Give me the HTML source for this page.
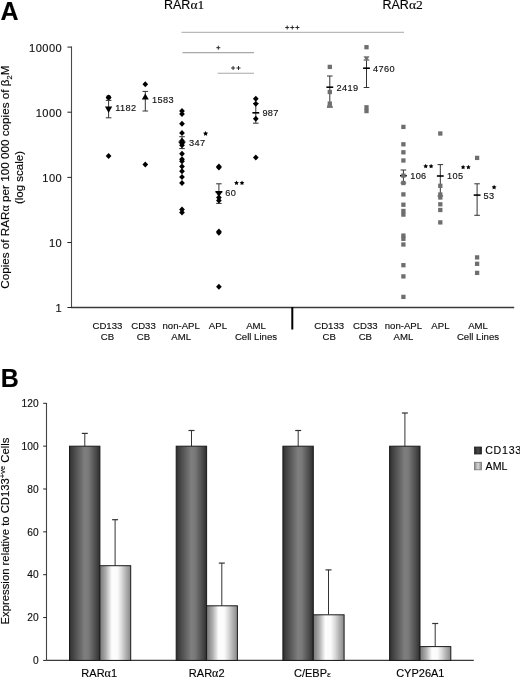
<!DOCTYPE html>
<html><head><meta charset="utf-8"><style>
html,body{margin:0;padding:0;background:#fff;}
body{width:520px;height:678px;overflow:hidden;}
svg{display:block;will-change:transform;}
text{stroke:#000;stroke-width:0.22px;stroke-opacity:0.6;}
</style></head><body>
<svg width="520" height="678" viewBox="0 0 520 678">
<rect width="520" height="678" fill="#fff"/>
<text x="0.50" y="19.60" font-family='"Liberation Sans", sans-serif' font-size="25" font-weight="bold" text-anchor="start" fill="#000" >A</text>
<text x="164" y="8.8" font-family='"Liberation Sans", sans-serif' font-size="12.5" fill="#000">RAR<tspan font-family='"Liberation Serif", serif' font-size="13.5">α1</tspan></text>
<text x="382.5" y="8.6" font-family='"Liberation Sans", sans-serif' font-size="12.5" fill="#000">RAR<tspan font-family='"Liberation Serif", serif' font-size="13.5">α2</tspan></text>
<line x1="71.5" y1="46.5" x2="71.5" y2="308" stroke="#4a4a4a" stroke-width="1.1"/>
<line x1="71.0" y1="307.5" x2="514.2" y2="307.5" stroke="#3a3a3a" stroke-width="1.3"/>
<line x1="292.3" y1="307" x2="292.3" y2="329.5" stroke="#000" stroke-width="2"/>
<line x1="67.4" y1="47.1" x2="71.5" y2="47.1" stroke="#222" stroke-width="1"/>
<text x="62.20" y="51.50" font-family='"Liberation Sans", sans-serif' font-size="11.1" font-weight="normal" text-anchor="end" fill="#111" letter-spacing="0.45">10000</text>
<line x1="67.4" y1="112.2" x2="71.5" y2="112.2" stroke="#222" stroke-width="1"/>
<text x="62.20" y="116.60" font-family='"Liberation Sans", sans-serif' font-size="11.1" font-weight="normal" text-anchor="end" fill="#111" letter-spacing="0.45">1000</text>
<line x1="67.4" y1="177.4" x2="71.5" y2="177.4" stroke="#222" stroke-width="1"/>
<text x="62.20" y="181.80" font-family='"Liberation Sans", sans-serif' font-size="11.1" font-weight="normal" text-anchor="end" fill="#111" letter-spacing="0.45">100</text>
<line x1="67.4" y1="242.5" x2="71.5" y2="242.5" stroke="#222" stroke-width="1"/>
<text x="62.20" y="246.90" font-family='"Liberation Sans", sans-serif' font-size="11.1" font-weight="normal" text-anchor="end" fill="#111" letter-spacing="0.45">10</text>
<line x1="67.4" y1="307.5" x2="71.5" y2="307.5" stroke="#222" stroke-width="1"/>
<text x="62.20" y="311.90" font-family='"Liberation Sans", sans-serif' font-size="11.1" font-weight="normal" text-anchor="end" fill="#111" letter-spacing="0.45">1</text>
<text transform="translate(9.2,177.2) rotate(-90)" font-family='"Liberation Sans", sans-serif' font-size="11.7" text-anchor="middle" fill="#000">Copies of RAR<tspan font-family='"Liberation Serif", serif' font-size="12">α</tspan> per 100 000 copies of β<tspan font-size="7.5" dy="2.5">2</tspan><tspan dy="-2.5">M</tspan></text>
<text transform="translate(22.9,177.5) rotate(-90)" font-family='"Liberation Sans", sans-serif' font-size="11.5" text-anchor="middle" fill="#000">(log scale)</text>
<text x="107.40" y="328.60" font-family='"Liberation Sans", sans-serif' font-size="9.6" font-weight="normal" text-anchor="middle" fill="#111" >CD133</text>
<text x="107.40" y="340.10" font-family='"Liberation Sans", sans-serif' font-size="9.6" font-weight="normal" text-anchor="middle" fill="#111" >CB</text>
<text x="143.50" y="328.60" font-family='"Liberation Sans", sans-serif' font-size="9.6" font-weight="normal" text-anchor="middle" fill="#111" >CD33</text>
<text x="143.50" y="340.10" font-family='"Liberation Sans", sans-serif' font-size="9.6" font-weight="normal" text-anchor="middle" fill="#111" >CB</text>
<text x="181.20" y="328.60" font-family='"Liberation Sans", sans-serif' font-size="9.6" font-weight="normal" text-anchor="middle" fill="#111" >non-APL</text>
<text x="181.20" y="340.10" font-family='"Liberation Sans", sans-serif' font-size="9.6" font-weight="normal" text-anchor="middle" fill="#111" >AML</text>
<text x="217.90" y="328.60" font-family='"Liberation Sans", sans-serif' font-size="9.6" font-weight="normal" text-anchor="middle" fill="#111" >APL</text>
<text x="256.00" y="328.60" font-family='"Liberation Sans", sans-serif' font-size="9.6" font-weight="normal" text-anchor="middle" fill="#111" >AML</text>
<text x="256.00" y="340.10" font-family='"Liberation Sans", sans-serif' font-size="9.6" font-weight="normal" text-anchor="middle" fill="#111" >Cell Lines</text>
<text x="329.20" y="328.60" font-family='"Liberation Sans", sans-serif' font-size="9.6" font-weight="normal" text-anchor="middle" fill="#111" >CD133</text>
<text x="329.20" y="340.10" font-family='"Liberation Sans", sans-serif' font-size="9.6" font-weight="normal" text-anchor="middle" fill="#111" >CB</text>
<text x="365.30" y="328.60" font-family='"Liberation Sans", sans-serif' font-size="9.6" font-weight="normal" text-anchor="middle" fill="#111" >CD33</text>
<text x="365.30" y="340.10" font-family='"Liberation Sans", sans-serif' font-size="9.6" font-weight="normal" text-anchor="middle" fill="#111" >CB</text>
<text x="403.40" y="328.60" font-family='"Liberation Sans", sans-serif' font-size="9.6" font-weight="normal" text-anchor="middle" fill="#111" >non-APL</text>
<text x="403.40" y="340.10" font-family='"Liberation Sans", sans-serif' font-size="9.6" font-weight="normal" text-anchor="middle" fill="#111" >AML</text>
<text x="440.40" y="328.60" font-family='"Liberation Sans", sans-serif' font-size="9.6" font-weight="normal" text-anchor="middle" fill="#111" >APL</text>
<text x="478.00" y="328.60" font-family='"Liberation Sans", sans-serif' font-size="9.6" font-weight="normal" text-anchor="middle" fill="#111" >AML</text>
<text x="478.00" y="340.10" font-family='"Liberation Sans", sans-serif' font-size="9.6" font-weight="normal" text-anchor="middle" fill="#111" >Cell Lines</text>
<line x1="181.5" y1="32.3" x2="404" y2="32.3" stroke="#a8a8a8" stroke-width="1"/>
<line x1="182.5" y1="52.6" x2="254" y2="52.6" stroke="#a8a8a8" stroke-width="1.1"/>
<line x1="217.7" y1="73.2" x2="254" y2="73.2" stroke="#a8a8a8" stroke-width="1.1"/>
<line x1="285.2" y1="27.5" x2="289.2" y2="27.5" stroke="#222" stroke-width="0.95"/>
<line x1="287.2" y1="25.5" x2="287.2" y2="29.5" stroke="#222" stroke-width="0.95"/>
<line x1="290.3" y1="27.5" x2="294.3" y2="27.5" stroke="#222" stroke-width="0.95"/>
<line x1="292.3" y1="25.5" x2="292.3" y2="29.5" stroke="#222" stroke-width="0.95"/>
<line x1="295.4" y1="27.5" x2="299.4" y2="27.5" stroke="#222" stroke-width="0.95"/>
<line x1="297.4" y1="25.5" x2="297.4" y2="29.5" stroke="#222" stroke-width="0.95"/>
<line x1="216.3" y1="47.7" x2="220.3" y2="47.7" stroke="#222" stroke-width="0.95"/>
<line x1="218.3" y1="45.7" x2="218.3" y2="49.7" stroke="#222" stroke-width="0.95"/>
<line x1="231.1" y1="68.0" x2="235.1" y2="68.0" stroke="#222" stroke-width="0.95"/>
<line x1="233.1" y1="66.0" x2="233.1" y2="70.0" stroke="#222" stroke-width="0.95"/>
<line x1="236.5" y1="68.0" x2="240.5" y2="68.0" stroke="#222" stroke-width="0.95"/>
<line x1="238.5" y1="66.0" x2="238.5" y2="70.0" stroke="#222" stroke-width="0.95"/>
<line x1="108.6" y1="100.4" x2="108.6" y2="117.8" stroke="#333" stroke-width="1"/>
<line x1="105.8" y1="100.4" x2="111.39999999999999" y2="100.4" stroke="#333" stroke-width="1"/>
<line x1="105.8" y1="117.8" x2="111.39999999999999" y2="117.8" stroke="#333" stroke-width="1"/>
<polygon points="105.60,97.40 108.60,94.50 111.60,97.40 108.60,100.30" fill="#000"/>
<circle cx="108.6" cy="97.5" r="2.4" fill="#000"/>
<polygon points="105.00,106.60 112.20,106.60 108.60,112.90" fill="#000"/>
<polygon points="105.75,155.90 108.60,152.90 111.45,155.90 108.60,158.90" fill="#000"/>
<text x="115.30" y="111.40" font-family='"Liberation Sans", sans-serif' font-size="9.2" font-weight="normal" text-anchor="start" fill="#111" letter-spacing="0.35">1182</text>
<line x1="145.3" y1="91.4" x2="145.3" y2="111" stroke="#333" stroke-width="1"/>
<line x1="142.5" y1="91.4" x2="148.10000000000002" y2="91.4" stroke="#333" stroke-width="1"/>
<line x1="142.5" y1="111" x2="148.10000000000002" y2="111" stroke="#333" stroke-width="1"/>
<polygon points="142.45,84.30 145.30,81.30 148.15,84.30 145.30,87.30" fill="#000"/>
<polygon points="141.80,99.50 148.80,99.50 145.30,93.60" fill="#000"/>
<polygon points="142.45,164.40 145.30,161.40 148.15,164.40 145.30,167.40" fill="#000"/>
<text x="152.00" y="102.80" font-family='"Liberation Sans", sans-serif' font-size="9.2" font-weight="normal" text-anchor="start" fill="#111" letter-spacing="0.35">1583</text>
<line x1="182" y1="136.7" x2="182" y2="148.6" stroke="#333" stroke-width="1"/>
<line x1="179.2" y1="136.7" x2="184.8" y2="136.7" stroke="#333" stroke-width="1"/>
<line x1="179.2" y1="148.6" x2="184.8" y2="148.6" stroke="#333" stroke-width="1"/>
<line x1="178.6" y1="142.1" x2="185.4" y2="142.1" stroke="#000" stroke-width="1.6"/>
<polygon points="179.15,111.00 182.00,108.00 184.85,111.00 182.00,114.00" fill="#000"/>
<polygon points="179.15,114.00 182.00,111.00 184.85,114.00 182.00,117.00" fill="#000"/>
<polygon points="179.15,123.80 182.00,120.80 184.85,123.80 182.00,126.80" fill="#000"/>
<polygon points="179.15,132.90 182.00,129.90 184.85,132.90 182.00,135.90" fill="#000"/>
<polygon points="179.15,140.80 182.00,137.80 184.85,140.80 182.00,143.80" fill="#000"/>
<polygon points="179.15,143.20 182.00,140.20 184.85,143.20 182.00,146.20" fill="#000"/>
<polygon points="179.15,145.20 182.00,142.20 184.85,145.20 182.00,148.20" fill="#000"/>
<polygon points="179.15,153.70 182.00,150.70 184.85,153.70 182.00,156.70" fill="#000"/>
<polygon points="179.15,159.30 182.00,156.30 184.85,159.30 182.00,162.30" fill="#000"/>
<polygon points="179.15,161.30 182.00,158.30 184.85,161.30 182.00,164.30" fill="#000"/>
<polygon points="179.15,166.50 182.00,163.50 184.85,166.50 182.00,169.50" fill="#000"/>
<polygon points="179.15,171.20 182.00,168.20 184.85,171.20 182.00,174.20" fill="#000"/>
<polygon points="179.15,177.10 182.00,174.10 184.85,177.10 182.00,180.10" fill="#000"/>
<polygon points="179.15,182.90 182.00,179.90 184.85,182.90 182.00,185.90" fill="#000"/>
<polygon points="179.15,209.60 182.00,206.60 184.85,209.60 182.00,212.60" fill="#000"/>
<polygon points="179.15,212.60 182.00,209.60 184.85,212.60 182.00,215.60" fill="#000"/>
<text x="189.00" y="145.80" font-family='"Liberation Sans", sans-serif' font-size="9.2" font-weight="normal" text-anchor="start" fill="#111" letter-spacing="0.35">347</text>
<polygon points="205.60,130.90 206.39,132.51 208.17,132.77 206.88,134.02 207.19,135.78 205.60,134.95 204.01,135.78 204.32,134.02 203.03,132.77 204.81,132.51" fill="#000"/>
<line x1="218.9" y1="183.8" x2="218.9" y2="203.4" stroke="#333" stroke-width="1"/>
<line x1="216.1" y1="183.8" x2="221.70000000000002" y2="183.8" stroke="#333" stroke-width="1"/>
<line x1="216.1" y1="203.4" x2="221.70000000000002" y2="203.4" stroke="#333" stroke-width="1"/>
<line x1="215.5" y1="191.8" x2="222.3" y2="191.8" stroke="#000" stroke-width="1.6"/>
<polygon points="216.05,166.50 218.90,163.50 221.75,166.50 218.90,169.50" fill="#000"/>
<polygon points="216.05,167.40 218.90,164.40 221.75,167.40 218.90,170.40" fill="#000"/>
<polygon points="215.30,191.40 222.50,191.40 218.90,197.00" fill="#000"/>
<polygon points="216.05,197.40 218.90,194.40 221.75,197.40 218.90,200.40" fill="#000"/>
<polygon points="216.05,200.40 218.90,197.40 221.75,200.40 218.90,203.40" fill="#000"/>
<polygon points="216.05,231.60 218.90,228.60 221.75,231.60 218.90,234.60" fill="#000"/>
<polygon points="216.05,232.80 218.90,229.80 221.75,232.80 218.90,235.80" fill="#000"/>
<polygon points="216.05,286.70 218.90,283.70 221.75,286.70 218.90,289.70" fill="#000"/>
<text x="225.30" y="195.60" font-family='"Liberation Sans", sans-serif' font-size="9.2" font-weight="normal" text-anchor="start" fill="#111" letter-spacing="0.35">60</text>
<polygon points="236.50,180.50 237.23,181.99 238.88,182.23 237.69,183.39 237.97,185.02 236.50,184.25 235.03,185.02 235.31,183.39 234.12,182.23 235.77,181.99" fill="#000"/>
<polygon points="242.00,180.50 242.73,181.99 244.38,182.23 243.19,183.39 243.47,185.02 242.00,184.25 240.53,185.02 240.81,183.39 239.62,182.23 241.27,181.99" fill="#000"/>
<line x1="255.8" y1="103.5" x2="255.8" y2="123.2" stroke="#333" stroke-width="1"/>
<line x1="253.0" y1="103.5" x2="258.6" y2="103.5" stroke="#333" stroke-width="1"/>
<line x1="253.0" y1="123.2" x2="258.6" y2="123.2" stroke="#333" stroke-width="1"/>
<line x1="252.4" y1="112.8" x2="259.2" y2="112.8" stroke="#000" stroke-width="1.6"/>
<polygon points="252.95,98.80 255.80,95.80 258.65,98.80 255.80,101.80" fill="#000"/>
<polygon points="252.95,103.80 255.80,100.80 258.65,103.80 255.80,106.80" fill="#000"/>
<polygon points="252.95,118.80 255.80,115.80 258.65,118.80 255.80,121.80" fill="#000"/>
<polygon points="252.95,157.50 255.80,154.50 258.65,157.50 255.80,160.50" fill="#000"/>
<text x="262.40" y="116.30" font-family='"Liberation Sans", sans-serif' font-size="9.2" font-weight="normal" text-anchor="start" fill="#111" letter-spacing="0.35">987</text>
<line x1="329.8" y1="76" x2="329.8" y2="107" stroke="#333" stroke-width="1"/>
<line x1="327.0" y1="76" x2="332.6" y2="76" stroke="#333" stroke-width="1"/>
<line x1="327.0" y1="107" x2="332.6" y2="107" stroke="#333" stroke-width="1"/>
<line x1="326.40000000000003" y1="87.2" x2="333.2" y2="87.2" stroke="#000" stroke-width="1.6"/>
<rect x="327.65" y="64.75" width="4.3" height="4.3" fill="#6e6e6e"/>
<rect x="327.65" y="89.85" width="4.3" height="4.3" fill="#6e6e6e"/>
<rect x="327.65" y="101.45" width="4.3" height="4.3" fill="#6e6e6e"/>
<polygon points="326.8,107.7 332.8,107.7 332.0,104.8 327.6,104.8" fill="#727272"/>
<text x="336.50" y="90.70" font-family='"Liberation Sans", sans-serif' font-size="9.2" font-weight="normal" text-anchor="start" fill="#111" letter-spacing="0.35">2419</text>
<line x1="366.5" y1="60" x2="366.5" y2="87.5" stroke="#333" stroke-width="1"/>
<line x1="363.7" y1="60" x2="369.3" y2="60" stroke="#333" stroke-width="1"/>
<line x1="363.7" y1="87.5" x2="369.3" y2="87.5" stroke="#333" stroke-width="1"/>
<line x1="363.1" y1="68.2" x2="369.9" y2="68.2" stroke="#000" stroke-width="1.6"/>
<rect x="364.35" y="45.05" width="4.3" height="4.3" fill="#6e6e6e"/>
<polygon points="363.50,56.30 369.50,56.30 366.50,61.20" fill="#727272"/>
<rect x="364.35" y="105.15" width="4.3" height="4.3" fill="#6e6e6e"/>
<rect x="364.35" y="108.95" width="4.3" height="4.3" fill="#6e6e6e"/>
<text x="373.00" y="71.50" font-family='"Liberation Sans", sans-serif' font-size="9.2" font-weight="normal" text-anchor="start" fill="#111" letter-spacing="0.35">4760</text>
<line x1="403.4" y1="170" x2="403.4" y2="183" stroke="#333" stroke-width="1"/>
<line x1="400.59999999999997" y1="170" x2="406.2" y2="170" stroke="#333" stroke-width="1"/>
<line x1="400.59999999999997" y1="183" x2="406.2" y2="183" stroke="#333" stroke-width="1"/>
<line x1="400.0" y1="175.7" x2="406.79999999999995" y2="175.7" stroke="#000" stroke-width="1.6"/>
<rect x="401.25" y="124.75" width="4.3" height="4.3" fill="#6e6e6e"/>
<rect x="401.25" y="142.15" width="4.3" height="4.3" fill="#6e6e6e"/>
<rect x="401.25" y="150.15" width="4.3" height="4.3" fill="#6e6e6e"/>
<rect x="401.25" y="158.35" width="4.3" height="4.3" fill="#6e6e6e"/>
<rect x="401.25" y="173.45" width="4.3" height="4.3" fill="#6e6e6e"/>
<rect x="401.25" y="180.85" width="4.3" height="4.3" fill="#6e6e6e"/>
<rect x="401.25" y="192.25" width="4.3" height="4.3" fill="#6e6e6e"/>
<rect x="401.25" y="202.55" width="4.3" height="4.3" fill="#6e6e6e"/>
<rect x="401.25" y="208.85" width="4.3" height="4.3" fill="#6e6e6e"/>
<rect x="401.25" y="212.45" width="4.3" height="4.3" fill="#6e6e6e"/>
<rect x="401.25" y="233.45" width="4.3" height="4.3" fill="#6e6e6e"/>
<rect x="401.25" y="236.65" width="4.3" height="4.3" fill="#6e6e6e"/>
<rect x="401.25" y="242.35" width="4.3" height="4.3" fill="#6e6e6e"/>
<rect x="401.25" y="263.05" width="4.3" height="4.3" fill="#6e6e6e"/>
<rect x="401.25" y="274.25" width="4.3" height="4.3" fill="#6e6e6e"/>
<rect x="401.25" y="294.75" width="4.3" height="4.3" fill="#6e6e6e"/>
<text x="410.20" y="179.30" font-family='"Liberation Sans", sans-serif' font-size="9.2" font-weight="normal" text-anchor="start" fill="#111" letter-spacing="0.35">106</text>
<polygon points="425.70,163.80 426.43,165.29 428.08,165.53 426.89,166.69 427.17,168.32 425.70,167.55 424.23,168.32 424.51,166.69 423.32,165.53 424.97,165.29" fill="#000"/>
<polygon points="431.10,163.80 431.83,165.29 433.48,165.53 432.29,166.69 432.57,168.32 431.10,167.55 429.63,168.32 429.91,166.69 428.72,165.53 430.37,165.29" fill="#000"/>
<line x1="440.3" y1="164.6" x2="440.3" y2="196" stroke="#333" stroke-width="1"/>
<line x1="437.5" y1="164.6" x2="443.1" y2="164.6" stroke="#333" stroke-width="1"/>
<line x1="437.5" y1="196" x2="443.1" y2="196" stroke="#333" stroke-width="1"/>
<line x1="436.90000000000003" y1="176" x2="443.7" y2="176" stroke="#000" stroke-width="1.6"/>
<rect x="438.15" y="131.35" width="4.3" height="4.3" fill="#6e6e6e"/>
<rect x="438.15" y="183.65" width="4.3" height="4.3" fill="#6e6e6e"/>
<rect x="438.15" y="192.35" width="4.3" height="4.3" fill="#6e6e6e"/>
<rect x="438.15" y="195.35" width="4.3" height="4.3" fill="#6e6e6e"/>
<rect x="438.15" y="202.15" width="4.3" height="4.3" fill="#6e6e6e"/>
<rect x="438.15" y="207.85" width="4.3" height="4.3" fill="#6e6e6e"/>
<rect x="438.15" y="220.25" width="4.3" height="4.3" fill="#6e6e6e"/>
<text x="447.00" y="179.30" font-family='"Liberation Sans", sans-serif' font-size="9.2" font-weight="normal" text-anchor="start" fill="#111" letter-spacing="0.35">105</text>
<polygon points="463.10,164.70 463.83,166.19 465.48,166.43 464.29,167.59 464.57,169.22 463.10,168.45 461.63,169.22 461.91,167.59 460.72,166.43 462.37,166.19" fill="#000"/>
<polygon points="468.40,164.70 469.13,166.19 470.78,166.43 469.59,167.59 469.87,169.22 468.40,168.45 466.93,169.22 467.21,167.59 466.02,166.43 467.67,166.19" fill="#000"/>
<rect x="474.95" y="155.75" width="4.3" height="4.3" fill="#6e6e6e"/>
<line x1="477.1" y1="183.8" x2="477.1" y2="215.3" stroke="#333" stroke-width="1"/>
<line x1="474.3" y1="183.8" x2="479.90000000000003" y2="183.8" stroke="#333" stroke-width="1"/>
<line x1="474.3" y1="215.3" x2="479.90000000000003" y2="215.3" stroke="#333" stroke-width="1"/>
<line x1="473.70000000000005" y1="195.1" x2="480.5" y2="195.1" stroke="#000" stroke-width="1.6"/>
<rect x="474.95" y="255.25" width="4.3" height="4.3" fill="#6e6e6e"/>
<rect x="474.95" y="261.65" width="4.3" height="4.3" fill="#6e6e6e"/>
<rect x="474.95" y="270.75" width="4.3" height="4.3" fill="#6e6e6e"/>
<text x="483.50" y="198.50" font-family='"Liberation Sans", sans-serif' font-size="9.2" font-weight="normal" text-anchor="start" fill="#111" letter-spacing="0.35">53</text>
<polygon points="494.10,184.70 494.86,186.25 496.57,186.50 495.34,187.70 495.63,189.40 494.10,188.60 492.57,189.40 492.86,187.70 491.63,186.50 493.34,186.25" fill="#000"/>
<text x="0.80" y="386.90" font-family='"Liberation Sans", sans-serif' font-size="25" font-weight="bold" text-anchor="start" fill="#000" >B</text>
<line x1="46.5" y1="403" x2="46.5" y2="660.4" stroke="#444" stroke-width="1.1"/>
<line x1="46.5" y1="660.4" x2="473.8" y2="660.4" stroke="#3a3a3a" stroke-width="1.2"/>
<line x1="43.2" y1="660.40" x2="46.5" y2="660.40" stroke="#222" stroke-width="1"/>
<text x="38.60" y="664.10" font-family='"Liberation Sans", sans-serif' font-size="10.2" font-weight="normal" text-anchor="end" fill="#111" >0</text>
<line x1="43.2" y1="617.55" x2="46.5" y2="617.55" stroke="#222" stroke-width="1"/>
<text x="38.60" y="621.25" font-family='"Liberation Sans", sans-serif' font-size="10.2" font-weight="normal" text-anchor="end" fill="#111" >20</text>
<line x1="43.2" y1="574.70" x2="46.5" y2="574.70" stroke="#222" stroke-width="1"/>
<text x="38.60" y="578.40" font-family='"Liberation Sans", sans-serif' font-size="10.2" font-weight="normal" text-anchor="end" fill="#111" >40</text>
<line x1="43.2" y1="531.85" x2="46.5" y2="531.85" stroke="#222" stroke-width="1"/>
<text x="38.60" y="535.55" font-family='"Liberation Sans", sans-serif' font-size="10.2" font-weight="normal" text-anchor="end" fill="#111" >60</text>
<line x1="43.2" y1="489.00" x2="46.5" y2="489.00" stroke="#222" stroke-width="1"/>
<text x="38.60" y="492.70" font-family='"Liberation Sans", sans-serif' font-size="10.2" font-weight="normal" text-anchor="end" fill="#111" >80</text>
<line x1="43.2" y1="446.15" x2="46.5" y2="446.15" stroke="#222" stroke-width="1"/>
<text x="38.60" y="449.85" font-family='"Liberation Sans", sans-serif' font-size="10.2" font-weight="normal" text-anchor="end" fill="#111" >100</text>
<line x1="43.2" y1="403.30" x2="46.5" y2="403.30" stroke="#222" stroke-width="1"/>
<text x="38.60" y="407.00" font-family='"Liberation Sans", sans-serif' font-size="10.2" font-weight="normal" text-anchor="end" fill="#111" >120</text>
<defs>
<linearGradient id="gd" x1="0" x2="1" y1="0" y2="0">
<stop offset="0" stop-color="#2c2c2c"/><stop offset="0.06" stop-color="#3a3a3a"/><stop offset="0.5" stop-color="#7f7f7f"/><stop offset="0.62" stop-color="#797979"/><stop offset="0.88" stop-color="#484848"/><stop offset="1" stop-color="#2e2e2e"/>
</linearGradient>
<linearGradient id="gl" x1="0" x2="1" y1="0" y2="0">
<stop offset="0" stop-color="#7c7c7c"/><stop offset="0.08" stop-color="#8c8c8c"/><stop offset="0.2" stop-color="#b0b0b0"/><stop offset="0.3" stop-color="#d8d8d8"/><stop offset="0.39" stop-color="#fdfdfd"/><stop offset="0.57" stop-color="#fbfbfb"/><stop offset="0.7" stop-color="#dcdcdc"/><stop offset="0.85" stop-color="#b0b0b0"/><stop offset="1" stop-color="#888888"/>
</linearGradient>
<linearGradient id="gld" x1="0" x2="1" y1="0" y2="0">
<stop offset="0" stop-color="#222"/><stop offset="0.5" stop-color="#4a4a4a"/><stop offset="1" stop-color="#222"/>
</linearGradient>
<linearGradient id="gll" x1="0" x2="1" y1="0" y2="0">
<stop offset="0" stop-color="#888"/><stop offset="0.5" stop-color="#d8d8d8"/><stop offset="1" stop-color="#888"/>
</linearGradient>
</defs>
<line x1="84.80" y1="433.4" x2="84.80" y2="446.2" stroke="#333" stroke-width="1"/>
<line x1="81.80" y1="433.4" x2="87.80" y2="433.4" stroke="#333" stroke-width="1.2"/>
<rect x="69.50" y="446.2" width="30.4" height="214.20" fill="url(#gd)" stroke="#1a1a1a" stroke-width="1"/>
<line x1="115.10" y1="519.7" x2="115.10" y2="565.7" stroke="#333" stroke-width="1"/>
<line x1="112.10" y1="519.7" x2="118.10" y2="519.7" stroke="#333" stroke-width="1.2"/>
<rect x="99.90" y="565.7" width="30.8" height="94.70" fill="url(#gl)" stroke="#1a1a1a" stroke-width="1"/>
<line x1="191.50" y1="430.5" x2="191.50" y2="446.2" stroke="#333" stroke-width="1"/>
<line x1="188.50" y1="430.5" x2="194.50" y2="430.5" stroke="#333" stroke-width="1.2"/>
<rect x="176.20" y="446.2" width="30.4" height="214.20" fill="url(#gd)" stroke="#1a1a1a" stroke-width="1"/>
<line x1="221.80" y1="563.1" x2="221.80" y2="605.8" stroke="#333" stroke-width="1"/>
<line x1="218.80" y1="563.1" x2="224.80" y2="563.1" stroke="#333" stroke-width="1.2"/>
<rect x="206.60" y="605.8" width="30.8" height="54.60" fill="url(#gl)" stroke="#1a1a1a" stroke-width="1"/>
<line x1="298.20" y1="430.5" x2="298.20" y2="446.2" stroke="#333" stroke-width="1"/>
<line x1="295.20" y1="430.5" x2="301.20" y2="430.5" stroke="#333" stroke-width="1.2"/>
<rect x="282.90" y="446.2" width="30.4" height="214.20" fill="url(#gd)" stroke="#1a1a1a" stroke-width="1"/>
<line x1="328.50" y1="569.9" x2="328.50" y2="614.8" stroke="#333" stroke-width="1"/>
<line x1="325.50" y1="569.9" x2="331.50" y2="569.9" stroke="#333" stroke-width="1.2"/>
<rect x="313.30" y="614.8" width="30.8" height="45.60" fill="url(#gl)" stroke="#1a1a1a" stroke-width="1"/>
<line x1="404.90" y1="413.0" x2="404.90" y2="446.2" stroke="#333" stroke-width="1"/>
<line x1="401.90" y1="413.0" x2="407.90" y2="413.0" stroke="#333" stroke-width="1.2"/>
<rect x="389.60" y="446.2" width="30.4" height="214.20" fill="url(#gd)" stroke="#1a1a1a" stroke-width="1"/>
<line x1="435.20" y1="623.5" x2="435.20" y2="646.6" stroke="#333" stroke-width="1"/>
<line x1="432.20" y1="623.5" x2="438.20" y2="623.5" stroke="#333" stroke-width="1.2"/>
<rect x="420.00" y="646.6" width="30.8" height="13.80" fill="url(#gl)" stroke="#1a1a1a" stroke-width="1"/>
<text x="99.2" y="676.9" font-family='"Liberation Sans", sans-serif' font-size="11" text-anchor="middle" fill="#000">RAR<tspan font-family='"Liberation Serif", serif' font-size="12">α</tspan>1</text>
<text x="206.7" y="676.9" font-family='"Liberation Sans", sans-serif' font-size="11" text-anchor="middle" fill="#000">RAR<tspan font-family='"Liberation Serif", serif' font-size="12">α</tspan>2</text>
<text x="312.4" y="676.9" font-family='"Liberation Sans", sans-serif' font-size="11" text-anchor="middle" fill="#000">C/EBP<tspan font-family='"Liberation Serif", serif' font-size="9">ε</tspan></text>
<text x="420.30" y="676.90" font-family='"Liberation Sans", sans-serif' font-size="11" font-weight="normal" text-anchor="middle" fill="#000" >CYP26A1</text>
<text transform="translate(9.2,531) rotate(-90)" font-family='"Liberation Sans", sans-serif' font-size="11.3" text-anchor="middle" fill="#000">Expression relative to CD133<tspan font-size="7.5" dy="-4">+ve</tspan><tspan dy="4"> Cells</tspan></text>
<rect x="474.5" y="447" width="7" height="7" fill="url(#gld)" stroke="#222" stroke-width="0.8"/>
<rect x="474.5" y="462.3" width="7" height="7.5" fill="url(#gll)" stroke="#777" stroke-width="0.8"/>
<text x="485.20" y="454.30" font-family='"Liberation Sans", sans-serif' font-size="10.6" font-weight="normal" text-anchor="start" fill="#000" letter-spacing="0.75">CD133</text>
<text x="485.60" y="469.80" font-family='"Liberation Sans", sans-serif' font-size="10.6" font-weight="normal" text-anchor="start" fill="#000" >AML</text>
</svg>
</body></html>
